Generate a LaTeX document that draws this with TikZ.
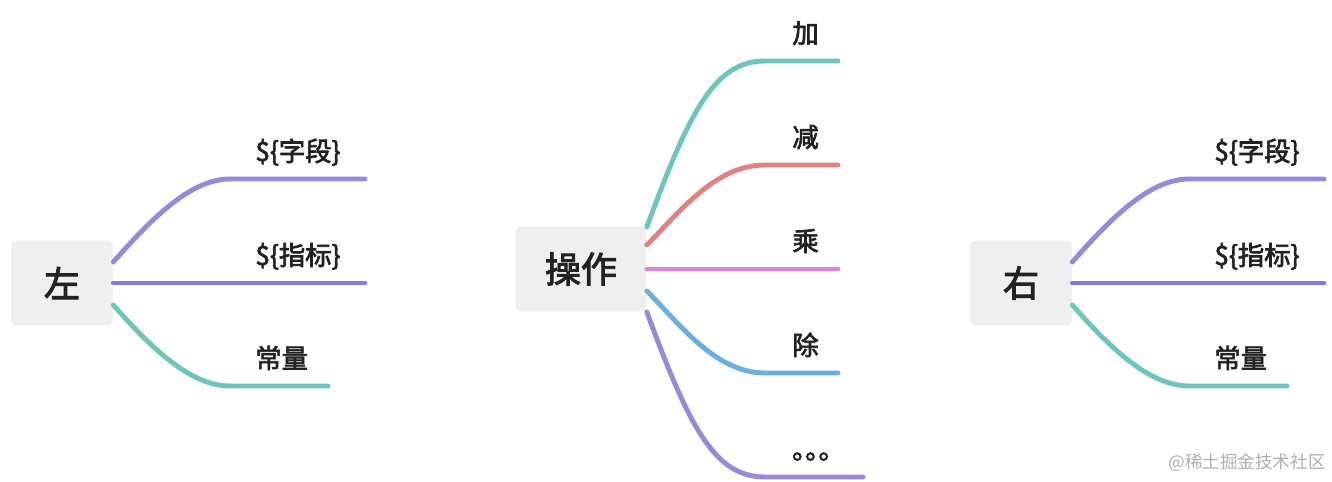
\documentclass[tikz,border=0pt]{standalone}
\usepackage{fontspec}
\setmainfont{Noto Sans CJK SC}
\newfontfamily\semibold{Noto Sans CJK SC}[FakeBold=2.6]
\usetikzlibrary{calc}
\definecolor{boxgray}{RGB}{238,240,239}
\definecolor{inkdark}{RGB}{34,34,34}
\definecolor{brteal}{RGB}{110,197,190}
\definecolor{brpurple}{RGB}{155,136,218}
\definecolor{brindigo}{RGB}{122,128,218}
\definecolor{brred}{RGB}{224,131,127}
\definecolor{brpink}{RGB}{227,131,216}
\definecolor{brblue}{RGB}{106,174,226}
\definecolor{markgray}{RGB}{175,175,175}

\begin{document}
\begin{tikzpicture}[
  x=0.02cm, y=-0.02cm,
  root/.style={fill=boxgray, rounded corners=3pt, text=inkdark,
               minimum height=1.7cm, font=\fontsize{20.5}{24}\selectfont\semibold},
  leaf/.style={anchor=base west, inner sep=0pt, text=inkdark,
               font=\fontsize{15}{18}\selectfont\semibold},
  branch/.style={line width=2.8pt, line cap=round},
  watermark/.style={anchor=east, inner sep=0pt, text=markgray,
               font=\fontsize{10}{12}\selectfont}
]
\useasboundingbox (0,0) rectangle (1332,482);

\foreach \side/\cx/\word in {lhs/62/左, rhs/1021/右} {
  \node[root, minimum width=2.04cm] (\side) at (\cx,283) {\word};
  \coordinate (\side top) at (\cx+168,179);
  \coordinate (\side top end) at (\cx+303,179);
  \coordinate (\side mid end) at (\cx+303,283);
  \coordinate (\side low) at (\cx+168,386);
  \coordinate (\side low end) at (\cx+266,386);
  \node[leaf] (\side field) at (\cx+193,161) {\$\{字段\}};
  \node[leaf] (\side metric) at (\cx+193,265) {\$\{指标\}};
  \node[leaf] (\side const) at (\cx+193,368) {常量};
  \draw[branch,brpurple] ($(\side.east)+(0,-21)$) .. controls +(37,-42) and +(-40,0) .. (\side top) -- (\side top end);
  \draw[branch,brindigo] (\side.east) -- (\side mid end);
  \draw[branch,brteal] ($(\side.east)+(0,22)$) .. controls +(37,42) and +(-40,0) .. (\side low) -- (\side low end);
}

\node[root, minimum width=2.62cm] (op) at (581,269) {操作};
\foreach \i/\dy/\ty/\ox/\oy/\tip/\col/\word in {
  1/-42/61/43/-117/838/brteal/加,
  2/-24/165/32/-32/838/brred/减,
  3/0/269/0/0/838/brpink/乘,
  4/22/373/32/32/838/brblue/除,
  5/43/477/43/117/863/brpurple/｡｡｡} {
  \coordinate (op\i) at (765,\ty);
  \coordinate (op\i end) at (\tip,\ty);
  \node[leaf] (opw\i) at (792,\ty-18) {\word};
  \draw[branch,\col] ($(op.east)+(0,\dy)$) .. controls +(\ox,\oy) and +(-50,0) .. (op\i) -- (op\i end);
}

\node[watermark] (site) at (1326,463) {@稀土掘金技术社区};
\end{tikzpicture}
\end{document}
